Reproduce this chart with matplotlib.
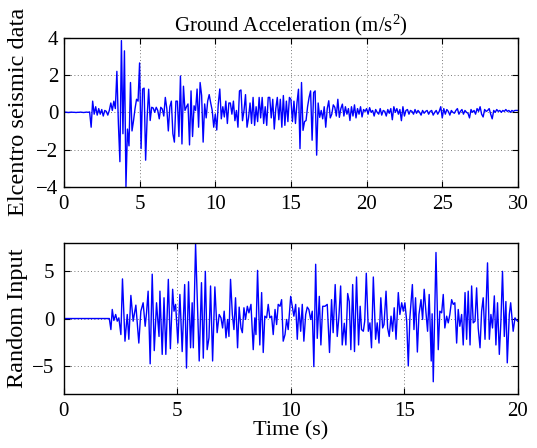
import numpy as np
import matplotlib
matplotlib.use("Agg")
import matplotlib.pyplot as plt

plt.rcParams['font.family'] = ['Liberation Serif', 'DejaVu Serif']
plt.rcParams['mathtext.fontset'] = 'custom'
plt.rcParams['mathtext.rm'] = 'Liberation Serif'
plt.rcParams['mathtext.it'] = 'Liberation Serif:italic'

# ---------------- data ----------------
# El Centro ground acceleration (m/s^2), sampled every 0.1 s from 0 to 30 s
elcentro_dt = 0.1
elcentro_acc = [
    0.0, 0.01, 0.0, -0.01, 0.0, 0.01, 0.0, 0.0, -0.01, 0.0,
    0.0, 0.01, 0.0, -0.01, 0.0, 0.01, 0.0, 0.02, -0.8, 0.6,
    -0.1, 0.3, -0.15, 0.2, -0.1, 0.15, -0.2, 0.1, 0.05, -0.15,
    0.1, 0.5, 0.1, 0.6, 0.2, 2.2, -0.6, -2.65, 3.85, -1.15,
    3.3, -4.0, -0.9, -1.8, 1.6, -1.0, -0.45, 0.2, 0.7, 0.6,
    2.65, -1.95, 1.25, 1.3, -2.57, -0.27, 1.24, -0.44, 0.27, 0.23,
    0.0, 0.27, 0.1, -0.35, 0.27, 0.18, -0.2, 0.8, 0.2, -1.0,
    0.3, 0.6, -1.15, -1.6, 0.6, 0.6, -1.3, 1.95, -1.7, 1.4,
    0.1, 0.3, 0.45, -1.75, 1.15, -1.3, 0.35, 0.1, 1.25, -0.8,
    1.6, 0.9, -1.6, 0.45, -0.3, 0.6, 0.95, 0.5, 0.1, -0.8,
    -0.1, -0.95, 0.45, 1.25, -0.35, 0.3, -0.25, 0.6, -0.6, 0.5,
    0.5, -0.1, 0.6, -0.45, 0.1, -0.8, 1.15, 1.2, -0.45, 0.1,
    0.95, -0.8, -0.3, 0.5, -0.6, 0.8, -0.7, 0.3, -0.5, 0.8,
    -0.3, 0.8, -0.6, 0.3, -0.7, 0.8, 0.8, -0.3, 0.7, -0.9,
    0.2, 0.8, -0.4, 0.7, -0.8, 0.9, -0.7, 0.6, -0.5, 0.8,
    0.7, -0.5, 0.6, -0.6, 0.5, 1.24, -1.95, 1.6, -0.97, -0.5,
    -0.44, 0.3, 0.8, 1.15, -1.5, 1.06, 1.15, -2.3, 0.5, -0.27,
    0.1, -0.35, 0.3, -0.8, 0.2, 0.62, -0.3, -0.1, 0.4, 0.27,
    -0.2, 0.7, -0.27, 0.2, 0.44, -0.2, 0.3, -0.1, 0.2, -0.44,
    0.3, -0.2, 0.4, -0.3, 0.2, -0.1, 0.3, -0.25, 0.15, 0.05,
    0.2, -0.1, 0.25, 0.0, 0.1, -0.2, 0.15, 0.0, -0.1, 0.2,
    -0.15, 0.1, 0.05, -0.2, 0.15, -0.05, 0.2, -0.4, 0.3, 0.0,
    0.2, -0.1, 0.15, -0.45, 0.3, -0.2, 0.1, 0.15, -0.1, 0.1,
    0.05, -0.1, 0.15, -0.05, 0.1, 0.0, -0.15, 0.1, -0.05, 0.05,
    0.1, -0.1, 0.05, 0.1, -0.15, 0.0, 0.1, -0.1, 0.05, 0.3,
    -0.3, 0.2, -0.1, 0.15, 0.05, -0.15, 0.1, 0.0, -0.05, 0.1,
    0.2, -0.1, 0.05, 0.15, -0.1, 0.1, 0.0, -0.05, -0.3, 0.15,
    0.0, 0.1, -0.1, 0.2, 0.05, 0.3, -0.1, -0.25, 0.15, 0.05,
    0.1, 0.2, -0.1, -0.35, 0.1, 0.0, 0.15, 0.05, 0.1, 0.0,
    0.1, 0.05, 0.15, 0.05, 0.1, 0.0, 0.1, 0.05, 0.1, 0.1,
    0.1,
]

# Random input: time (s) and value
random_t = [
    0.0, 2.0, 2.07, 2.13, 2.20, 2.28, 2.35, 2.42, 2.51, 2.58, 2.69, 2.79, 2.86, 2.95,
    3.05, 3.17, 3.30, 3.39, 3.49, 3.58, 3.64, 3.71, 3.80, 3.89, 3.98, 4.08, 4.19,
    4.23, 4.33, 4.41, 4.49, 4.60, 4.69, 4.79, 4.85, 4.92, 5.02, 5.11, 5.21, 5.32,
    5.40, 5.49, 5.58, 5.65, 5.70, 5.80, 5.96, 6.06, 6.14, 6.23, 6.31, 6.39, 6.46,
    6.55, 6.65, 6.75, 6.84, 6.92, 6.99, 7.06, 7.14, 7.21, 7.27, 7.34, 7.42, 7.49,
    7.56, 7.65, 7.72, 7.80, 7.86, 7.93, 8.00, 8.08, 8.15, 8.24, 8.34, 8.41, 8.46,
    8.53, 8.63, 8.71, 8.78, 8.85, 8.93, 9.00, 9.07, 9.15, 9.22, 9.30, 9.37, 9.44,
    9.52, 9.59, 9.66, 9.74, 9.81, 9.88, 9.99, 10.06, 10.13, 10.21, 10.28, 10.35,
    10.43, 10.50, 10.57, 10.65, 10.72, 10.79, 10.87, 10.94, 11.01, 11.09, 11.16,
    11.25, 11.32, 11.40, 11.50, 11.60, 11.70, 11.79, 11.86, 11.95, 12.04, 12.11,
    12.19, 12.26, 12.35, 12.42, 12.50, 12.57, 12.64, 12.72, 12.80, 12.89, 12.98,
    13.05, 13.11, 13.19, 13.25, 13.32, 13.41, 13.48, 13.55, 13.63, 13.73, 13.80,
    13.88, 13.96, 14.04, 14.10, 14.19, 14.26, 14.33, 14.41, 14.48, 14.55, 14.63,
    14.73, 14.80, 14.88, 14.95, 15.02, 15.10, 15.17, 15.24, 15.35, 15.42, 15.49,
    15.57, 15.64, 15.73, 15.80, 15.87, 15.95, 16.02, 16.09, 16.18, 16.22, 16.27,
    16.39, 16.49, 16.56, 16.64, 16.71, 16.78, 16.86, 16.93, 17.00, 17.08, 17.15,
    17.22, 17.30, 17.37, 17.44, 17.52, 17.59, 17.67, 17.74, 17.81, 17.89, 17.96,
    18.03, 18.11, 18.18, 18.25, 18.33, 18.40, 18.47, 18.55, 18.66, 18.74, 18.81,
    18.88, 18.96, 19.03, 19.10, 19.18, 19.25, 19.32, 19.40, 19.47, 19.53, 19.62,
    19.68, 19.74, 19.79, 19.87, 19.91, 19.99,
]
random_u = [
    0.0, 0.0, -1.17, 0.96, -0.21, 0.43, -0.28, 0.07, -1.7, 4.2, -2.4, 0.43, -2.2, 2.45,
    -0.28, 1.42, -2.6, 0.78, 1.67, -0.82, 0.6, 2.9, -4.8, 4.7, -3.4, 1.67, -1.9,
    2.9, -3.8, 2.2, -3.8, 4.15, -3.2, 3.1, 0.78, 1.5, -2.6, 2.55, -3.5, 3.6,
    -5.25, 3.9, -3.1, 1.67, -3.1, 7.9, -4.5, 3.8, -4.2, 5.0, -3.3, -2.05, 3.45,
    -4.5, 3.35, -1.5, 0.43, 0.07, -1.0, 0.78, -2.05, -0.1, -1.9, 4.15, 0.43, -1.17,
    2.2, -3.1, 1.21, -1.0, -1.5, 1.14, -0.1, 1.3, 0.6, 1.5, -3.3, 0.07, -1.7,
    5.1, -2.8, 2.75, -3.6, 0.25, 0.07, 1.5, 0.07, 0.25, -1.7, 0.96, -0.64, 1.5,
    1.3, 2.0, -2.4, -1.7, -0.1, -1.17, 2.35, 1.3, 0.25, 1.5, -2.2, 1.14,
    -1.35, 1.5, -2.4, 0.43, 1.21, 0.96, -0.1, 0.78, -5.1, 5.75, -2.1,
    2.35, -2.8, 1.3, 1.3, 1.5, -3.6, 2.0, -1.5, 3.6, -1.9, 0.07,
    3.45, -2.8, -0.5, -2.8, 2.65, 1.8, -3.3, 3.6, -3.5, 4.4, -2.8,
    1.3, -1.17, -1.35, -0.28, 4.8, -1.35, -0.46, -3.1, 4.4, -2.2, -0.46,
    -2.6, 2.2, -1.0, -0.64, 2.9, -1.0, -1.9, 0.25, -1.35, 1.14, -2.2,
    2.75, 0.43, 1.67, 0.78, 1.67, -0.28, -5.0, 0.07, 3.6, -1.17, 2.2,
    -3.55, 0.43, 2.0, -0.1, 3.1, 0.6, -1.35, 2.55, -4.5, 0.5, -6.7,
    7.0, -3.3, 0.78, 0.6, 2.55, -1.0, 0.25, -0.46, 0.43, 2.0, 1.5,
    1.67, -2.6, 0.96, -0.82, 0.43, -2.8, 2.75, -2.2, 2.9, -2.8, 3.45,
    -0.46, -0.28, 3.25, -1.0, -3.1, 0.78, 2.2, -2.2, 5.9, -2.2, 0.43,
    -1.0, 2.4, -2.8, 1.67, -3.8, -0.28, 5.0, -1.9, 1.8, -4.7, 0.43,
    1.67, 0.07, -1.35, 0.07, -0.1, -0.28,
]

top_xticks = [0, 5, 10, 15, 20, 25, 30]
top_yticks = [-4, -2, 0, 2, 4]
bot_xticks = [0, 5, 10, 15, 20]
bot_yticks = [-5, 0, 5]

elcentro_t = np.arange(len(elcentro_acc)) * elcentro_dt

# ---------------- figure ----------------
fig = plt.figure(figsize=(5.37, 4.48), dpi=100)
ax1 = fig.add_axes([0.119, 0.583, 0.8455, 0.3326])
ax2 = fig.add_axes([0.119, 0.1205, 0.8455, 0.337])

ax1.plot(elcentro_t, elcentro_acc, color=(0, 0, 1), lw=1.0)
ax2.plot(random_t, random_u, color=(0, 0, 1), lw=1.0)

ax1.set_xlim(0, 30)
ax1.set_ylim(-4, 4)
ax1.set_xticks(top_xticks)
ax1.set_yticks(top_yticks)
ax2.set_xlim(0, 20)
ax2.set_ylim(-8, 8)
ax2.set_xticks(bot_xticks)
ax2.set_yticks(bot_yticks)

for ax in (ax1, ax2):
    ax.grid(True, linestyle=(0, (1, 3)), color='0.3', linewidth=0.6)
    ax.tick_params(direction='in', top=True, right=True, length=4,
                   width=0.8, labelsize=15)
    ax.tick_params(axis='x', pad=6)
    for s in ax.spines.values():
        s.set_linewidth(1.0)
ax1.tick_params(axis='y', pad=4)
ax2.tick_params(axis='y', pad=7)

ax1.set_title('Ground Acceleration (m/s$^2$)', fontsize=15, pad=5)
ax1.set_ylabel('Elcentro seismic data', fontsize=17.5)
ax2.set_ylabel('Random Input', fontsize=17.5)
ax2.set_xlabel('Time (s)', fontsize=16, labelpad=0)
ax1.yaxis.set_label_coords(-0.076, 0.5)
ax2.yaxis.set_label_coords(-0.078, 0.5)

fig.savefig('out.png', dpi=100)
